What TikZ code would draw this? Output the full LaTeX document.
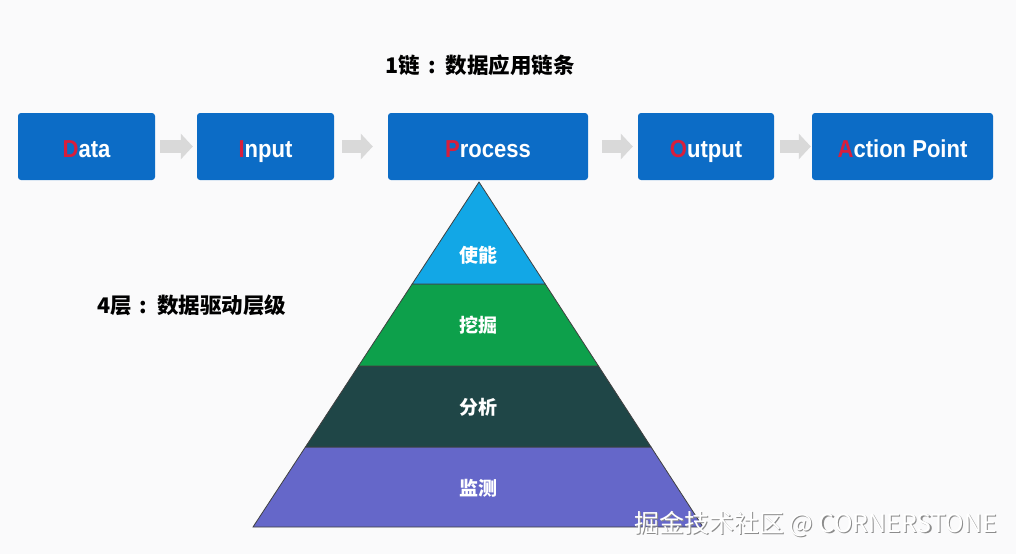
\documentclass[tikz,border=0pt]{standalone}
\usepackage{fontspec}
\setmainfont{Liberation Sans}
\newfontfamily\boxfont[FakeStretch=0.9]{Liberation Sans}
\newfontfamily\cjk{Noto Sans CJK SC}
\usetikzlibrary{arrows.meta,calc}
\definecolor{bg}{HTML}{FAFAFB}
\definecolor{boxblue}{HTML}{0C6CC6}
\definecolor{firstl}{HTML}{D81E3C}
\definecolor{arrgray}{HTML}{D9D9D9}
\definecolor{lay1}{HTML}{12A7E6}
\definecolor{lay2}{HTML}{0DA04B}
\definecolor{lay3}{HTML}{1F4647}
\definecolor{lay4}{HTML}{6567C9}
\tikzset{
  box/.style={fill=boxblue, rounded corners=3pt, minimum height=67pt, inner sep=0pt,
    text height=24pt, text depth=3pt,
    text=white, font=\boxfont\bfseries\fontsize{24.5}{28}\selectfont},
  flow/.style={draw=arrgray, line width=13pt, -{Triangle[width=25pt,length=12pt]}},
  layer/.style={draw=black!75, line width=0.8pt},
  plab/.style={text=white, font=\cjk\bfseries\fontsize{19}{22}\selectfont},
  ttl/.style={text=black, font=\cjk\bfseries\fontsize{21.5}{24}\selectfont},
  wm/.style={font=\cjk\fontsize{25}{29}\selectfont, inner sep=0pt}
}
\begin{document}
\begin{tikzpicture}[x=1pt,y=-1pt]
\useasboundingbox (0,0) rectangle (1016,554);
\fill[bg] (0,0) rectangle (1016,554);

% title of the chain
\node[ttl] (t1) at (480,65) {1链\hspace{8pt}:\hspace{10pt}数据应用链条};

% boxes
\node[box, minimum width=137pt] (d) at (86.5,146.5) {\textcolor{firstl}{D}ata};
\node[box, minimum width=137pt] (i) at (265.5,146.5) {\textcolor{firstl}{I}nput};
\node[box, minimum width=200pt] (p) at (488,146.5) {\textcolor{firstl}{P}rocess};
\node[box, minimum width=136pt] (o) at (706,146.5) {\textcolor{firstl}{O}utput};
\node[box, minimum width=181pt] (a) at (902.5,146.5) {\textcolor{firstl}{A}ction Point};

% arrows
\draw[flow, shorten <=5pt, shorten >=4pt] (d) -- (i);
\draw[flow, shorten <=8pt, shorten >=15pt] (i) -- (p);
\draw[flow, shorten <=14pt, shorten >=5pt] (p) -- (o);
\draw[flow, shorten <=6pt, shorten >=1pt] (o) -- (a);

% pyramid
\coordinate (apex) at (479,182);
\coordinate (bl) at (253,527);
\coordinate (br) at (703,527);
\coordinate (l1) at ($(apex)!0.2957!(bl)$);
\coordinate (r1) at ($(apex)!0.2957!(br)$);
\coordinate (l2) at ($(apex)!0.5333!(bl)$);
\coordinate (r2) at ($(apex)!0.5333!(br)$);
\coordinate (l3) at ($(apex)!0.7681!(bl)$);
\coordinate (r3) at ($(apex)!0.7681!(br)$);
\filldraw[layer, fill=lay4] (l3) -- (r3) -- (br) -- (bl) -- cycle;
\filldraw[layer, fill=lay3] (l2) -- (r2) -- (r3) -- (l3) -- cycle;
\filldraw[layer, fill=lay2] (l1) -- (r1) -- (r2) -- (l2) -- cycle;
\filldraw[layer, fill=lay1] (apex) -- (r1) -- (l1) -- cycle;

\node[plab] (n1) at (478,255) {使能};
\node[plab] (n2) at (478,325) {挖掘};
\node[plab] (n3) at (478,407) {分析};
\node[plab] (n4) at (478,488) {监测};

% title of the levels
\node[ttl, anchor=west, inner sep=0pt] (t2) at (97,305) {4层\hspace{8pt}:\hspace{10pt}数据驱动层级};

% watermark
\node[wm, anchor=east, text=black!45] (wms) at (998.2,525.2) {掘金技术社区 @ CORNERSTONE};
\node[wm, anchor=east, text=white] (wm) at (997,524) {掘金技术社区 @ CORNERSTONE};
\end{tikzpicture}
\end{document}
